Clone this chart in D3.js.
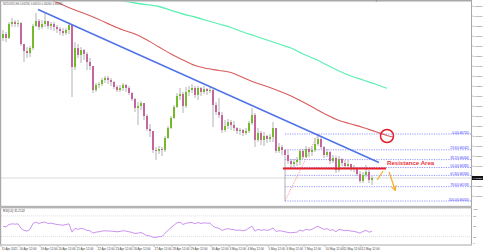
<!DOCTYPE html>
<html><head><meta charset="utf-8">
<script src="https://cdn.jsdelivr.net/npm/d3@7"></script>
<style>html,body{margin:0;padding:0;background:#fff;overflow:hidden}svg{display:block}</style>
</head><body><svg id="c" width="483" height="252"></svg>
<script>
// ---------- DATA ----------
const symbolTitle = "NZDUSD,H4  0.66290 0.66310 0.66260 0.66280";
const rsiTitle = "RSI(14) 35.2142";
const firstOpen = 0.6768;
const closes = [0.6772,0.6768,0.6782,0.6784,0.6782,0.6783,0.6762,0.6755,0.6753,0.6758,
0.6780,0.6785,0.6779,0.6782,0.6785,0.6780,0.6782,0.6779,0.6777,0.6775,
0.6773,0.6776,0.6781,0.6739,0.6758,0.6751,0.6756,0.6752,0.6744,0.6740,
0.6716,0.6721,0.6722,0.6726,0.6728,0.6726,0.6724,0.6719,0.6716,0.6718,
0.6721,0.6718,0.6713,0.6707,0.6698,0.6700,0.6703,0.6690,0.6677,0.6675,
0.6656,0.6655,0.6657,0.6656,0.6668,0.6678,0.6688,0.6699,0.6710,0.6712,
0.6700,0.6714,0.6716,0.6718,0.6711,0.6718,0.6714,0.6717,0.6715,0.6716,
0.6701,0.6694,0.6691,0.6676,0.6680,0.6684,0.6681,0.6678,0.6675,0.6676,
0.6673,0.6675,0.6683,0.6691,0.6666,0.6673,0.6666,0.6670,0.6667,0.6669,
0.6678,0.6655,0.6659,0.6656,0.6651,0.6645,0.6642,0.6644,0.6646,0.6655,
0.6649,0.6657,0.6654,0.6656,0.6662,0.6667,0.6659,0.6651,0.6654,0.6645,
0.6648,0.6636,0.6647,0.6643,0.6640,0.6642,0.6638,0.6637,0.6632,0.6625,
0.6631,0.6634,0.6626,0.6628];
const highs = [0.6776,0.6774,0.6784,0.6788,0.6786,0.6786,0.6784,0.6762,0.6759,0.6760,
0.6782,0.6793,0.6787,0.6786,0.6793,0.6785,0.6784,0.6784,0.6781,0.6779,
0.6778,0.6778,0.6784,0.6781,0.6764,0.6762,0.6759,0.6757,0.6754,0.6748,
0.6740,0.6723,0.6724,0.6728,0.6730,0.6730,0.6728,0.6725,0.6721,0.6721,
0.6723,0.6722,0.6720,0.6714,0.6708,0.6704,0.6705,0.6703,0.6692,0.6682,
0.6675,0.6659,0.6660,0.6659,0.6670,0.6680,0.6690,0.6701,0.6713,0.6718,
0.6714,0.6719,0.6720,0.6722,0.6720,0.6720,0.6719,0.6720,0.6718,0.6719,
0.6717,0.6704,0.6708,0.6694,0.6686,0.6687,0.6686,0.6685,0.6679,0.6678,
0.6677,0.6678,0.6685,0.6698,0.6693,0.6678,0.6675,0.6674,0.6671,0.6672,
0.6684,0.6678,0.6663,0.6661,0.6657,0.6656,0.6647,0.6647,0.6649,0.6657,
0.6657,0.6660,0.6659,0.6660,0.6668,0.6672,0.6669,0.6660,0.6657,0.6655,
0.6651,0.6650,0.6650,0.6648,0.6646,0.6646,0.6642,0.6641,0.6639,0.6635,
0.6634,0.6641,0.6636,0.6630];
const lows = [0.6765,0.6764,0.6767,0.6779,0.6779,0.6779,0.6760,0.6744,0.6748,0.6749,
0.6756,0.6779,0.6776,0.6777,0.6779,0.6777,0.6776,0.6775,0.6773,0.6771,
0.6770,0.6771,0.6772,0.6709,0.6736,0.6748,0.6743,0.6746,0.6736,0.6736,
0.6713,0.6714,0.6718,0.6720,0.6723,0.6722,0.6720,0.6717,0.6714,0.6714,
0.6715,0.6714,0.6711,0.6705,0.6694,0.6681,0.6696,0.6686,0.6675,0.6669,
0.6653,0.6646,0.6652,0.6650,0.6654,0.6667,0.6677,0.6687,0.6698,0.6706,
0.6693,0.6698,0.6710,0.6713,0.6708,0.6706,0.6710,0.6712,0.6711,0.6713,
0.6679,0.6691,0.6688,0.6673,0.6674,0.6677,0.6676,0.6675,0.6672,0.6671,
0.6670,0.6671,0.6673,0.6681,0.6659,0.6664,0.6661,0.6660,0.6663,0.6664,
0.6664,0.6653,0.6653,0.6651,0.6605,0.6642,0.6638,0.6639,0.6640,0.6641,
0.6647,0.6648,0.6649,0.6650,0.6654,0.6660,0.6657,0.6648,0.6649,0.6642,
0.6643,0.6633,0.6634,0.6640,0.6638,0.6638,0.6635,0.6634,0.6630,0.6623,
0.6623,0.6629,0.6623,0.6621];
const rsiValues = [50,48,55,57,56,57,44,38,36,41,58,62,58,61,62,58,59,57,55,54,
53,55,57,33,44,41,44,42,38,37,30,33,34,36,37,36,36,35,34,35,
37,36,34,32,29,30,32,27,23,22,18,18,20,20,30,38,46,53,60,62,
55,59,60,61,57,61,58,60,59,59,50,46,44,38,41,43,41,40,38,39,
37,39,45,50,36,41,38,40,38,40,45,35,37,36,34,32,31,32,33,39,
36,41,39,41,46,50,45,41,43,38,40,34,41,39,37,38,36,35,33,30,
35,38,33,35];
const redMaIdx = [12,16,20,24,28,32,36,40,44,48,52,56,60,64,68,72,76,80,84,88,92,96,100,104,108,112,116,120,124,128,130];
const redMa = [0.6811,0.6806,0.6801,0.6796,0.67915,0.67865,0.6781,0.6776,0.6772,0.6766,0.6759,0.6752,0.6746,0.67405,0.67375,0.67355,0.67335,0.67285,0.67235,0.67195,0.6715,0.6710,0.6704,0.66975,0.6691,0.66855,0.6682,0.66785,0.66745,0.66705,0.6669];
const greenMaIdx = [36,40,44,48,52,56,60,64,68,72,76,80,84,88,92,96,100,104,108,112,116,120,124,128];
const greenMa = [0.6807,0.6805,0.6803,0.68013,0.67995,0.67957,0.6792,0.6789,0.67855,0.6782,0.67785,0.6774,0.6770,0.6766,0.6762,0.6758,0.6752,0.6747,0.6741,0.6735,0.6730,0.6726,0.6722,0.67177];
const trendIdx = [11.7, 125.3];
const trendPrice = [0.67965, 0.66435];
const fibLevels = [0, 23.6, 38.2, 50, 61.8, 78.6, 100];
const fibLowIdx = 94, fibHighIdx = 105;
const resistancePrice = 0.66375;
const resistanceIdx = [93.3, 127.7];
const circleIdx = 128, circlePrice = 0.6670;
const arrowUp = [[124.7, 0.6626], [126.7, 0.6635]];
const arrowDown = [[128.7, 0.6634], [130.7, 0.6616]];
const annotationText = "Resistance Area";
const annotationAt = [128, 0.66415];
const priceTicks = [0.6800,0.6790,0.6780,0.6770,0.6760,0.6750,0.6740,0.6730,0.6720,0.6710,
0.6700,0.6690,0.6680,0.6670,0.6660,0.6650,0.6640,0.6630,0.6620,0.6610];
const rsiTicks = [100, 80, 50, 20, 0];
const rsiLevels = [80, 20];
const dateLabels = ["15 Apr 2021","16 Apr 12:00","19 Apr 12:00","20 Apr 12:00","21 Apr 12:00","22 Apr 12:00","23 Apr 12:00","26 Apr 12:00","27 Apr 12:00","28 Apr 12:00",
"29 Apr 12:00","30 Apr 12:00","3 May 12:00","4 May 12:00","5 May 12:00","6 May 12:00","7 May 12:00","10 May 12:00","11 May 12:00","12 May 12:00"];
const dateIdx = [0,6,13,19,25,32,38,44,51,57,63,70,76,82,89,95,101,108,114,120];

// ---------- LAYOUT ----------
const plotL = 1, plotR = 471, mainT = 1.5, mainB = 205.5, rsiT = 208.5, rsiB = 244.5;
const svg = d3.select('#c');
const x = d3.scaleLinear().domain([0, 123]).range([3, 372]);
const y = d3.scaleLinear().domain([0.6601, 0.6806]).range([205, 0]);
const yr = d3.scaleLinear().domain([0, 100]).range([243.5, 209]);
const font = "'Liberation Sans', Arial, sans-serif";

svg.append('rect').attr('width', 483).attr('height', 252).attr('fill', '#fff');
const defs = svg.append('defs');
defs.append('clipPath').attr('id', 'cm').append('rect')
  .attr('x', plotL).attr('y', mainT).attr('width', plotR - plotL).attr('height', mainB - mainT);
defs.append('clipPath').attr('id', 'cr').append('rect')
  .attr('x', plotL).attr('y', rsiT).attr('width', plotR - plotL).attr('height', rsiB - rsiT);
const mk = defs.append('marker').attr('id', 'ah').attr('viewBox', '0 0 10 10')
  .attr('refX', 8).attr('refY', 5).attr('markerWidth', 5).attr('markerHeight', 5)
  .attr('orient', 'auto-start-reverse');
mk.append('path').attr('d', 'M1,1 L9,5 L1,9').attr('fill', 'none').attr('stroke', '#f2b01e').attr('stroke-width', 1.8);

const main = svg.append('g').attr('clip-path', 'url(#cm)');

// current price line
const lastClose = closes[closes.length - 1];
main.append('line').attr('x1', plotL).attr('x2', plotR).attr('y1', y(lastClose)).attr('y2', y(lastClose))
  .attr('stroke', '#cfcfcf').attr('stroke-width', 0.8);

// fib
const fibLow = lows[fibLowIdx], fibHigh = highs[fibHighIdx];
fibLevels.forEach(lv => {
  const p = fibHigh - (fibHigh - fibLow) * lv / 100;
  main.append('line').attr('x1', x(fibLowIdx)).attr('x2', plotR).attr('y1', y(p)).attr('y2', y(p))
    .attr('stroke', '#6a6aff').attr('stroke-width', 0.7).attr('stroke-dasharray', '1.2,1.2');
  main.append('text').attr('x', plotR - 2).attr('y', y(p) - 0.4).attr('text-anchor', 'end')
    .attr('font-family', font).attr('font-size', 3).attr('fill', '#3a3aff')
    .text((lv === 0 ? '0.0' : lv === 100 ? '100.0' : lv.toFixed(1)) + '(' + p.toFixed(5) + ')');
});
main.append('line').attr('x1', x(fibLowIdx)).attr('y1', y(fibLow)).attr('x2', x(fibHighIdx)).attr('y2', y(fibHigh))
  .attr('stroke', '#ff6a6a').attr('stroke-width', 0.7).attr('stroke-dasharray', '1.2,1.2');

// moving averages
const ln = d3.line().x(d => x(d[0])).y(d => y(d[1])).curve(d3.curveMonotoneX);
main.append('path').attr('d', ln(greenMaIdx.map((v, k) => [v, greenMa[k]])))
  .attr('fill', 'none').attr('stroke', '#5ef0b2').attr('stroke-width', 1.3);
main.append('path').attr('d', ln(redMaIdx.map((v, k) => [v, redMa[k]])))
  .attr('fill', 'none').attr('stroke', '#d85c5c').attr('stroke-width', 1.1);

// candles
const candles = closes.map((c, i) => {
  const o = i ? closes[i - 1] : firstOpen;
  return { i, o, c, h: Math.max(highs[i], o, c), l: Math.min(lows[i], o, c) };
});
const cg = main.append('g');
cg.selectAll('line.w').data(candles).join('line')
  .attr('x1', d => x(d.i)).attr('x2', d => x(d.i)).attr('y1', d => y(d.h)).attr('y2', d => y(d.l))
  .attr('stroke', '#a0a0a0').attr('stroke-width', 0.8);
cg.selectAll('rect').data(candles).join('rect')
  .attr('x', d => x(d.i) - 1).attr('width', 2)
  .attr('y', d => y(Math.max(d.o, d.c)))
  .attr('height', d => Math.max(0.8, Math.abs(y(d.o) - y(d.c))))
  .attr('fill', d => d.c > d.o ? '#74bb2c' : d.c < d.o ? '#c6649e' : '#9a9a9a');

// trend line
main.append('line').attr('x1', x(trendIdx[0])).attr('y1', y(trendPrice[0]))
  .attr('x2', x(trendIdx[1])).attr('y2', y(trendPrice[1]))
  .attr('stroke', '#4f72e8').attr('stroke-width', 1.4);

// resistance
main.append('line').attr('x1', x(resistanceIdx[0])).attr('x2', x(resistanceIdx[1]))
  .attr('y1', y(resistancePrice)).attr('y2', y(resistancePrice))
  .attr('stroke', '#e8202a').attr('stroke-width', 2);
main.append('circle').attr('cx', x(circleIdx)).attr('cy', y(circlePrice)).attr('r', 6.5)
  .attr('fill', 'none').attr('stroke', '#e41e26').attr('stroke-width', 1.5);
main.append('text').attr('x', x(annotationAt[0])).attr('y', y(annotationAt[1]))
  .attr('font-family', font).attr('font-weight', 'bold').attr('font-size', 6.1)
  .attr('fill', '#e8343c').text(annotationText);
[arrowUp, arrowDown].forEach((a, k) => {
  const l = main.append('line').attr('x1', x(a[0][0])).attr('y1', y(a[0][1]))
    .attr('x2', x(a[1][0])).attr('y2', y(a[1][1]))
    .attr('stroke', '#f2b01e').attr('stroke-width', 1.2);
  if (k === 1) l.attr('marker-end', 'url(#ah)');
});

// ---------- RSI ----------
const rg = svg.append('g').attr('clip-path', 'url(#cr)');
rsiLevels.forEach(v => rg.append('line').attr('x1', plotL).attr('x2', plotR).attr('y1', yr(v)).attr('y2', yr(v))
  .attr('stroke', '#c8c8c8').attr('stroke-width', 0.6).attr('stroke-dasharray', '1,1'));
rg.append('path').attr('d', d3.line().x((d, i) => x(i)).y(d => yr(d))(rsiValues))
  .attr('fill', 'none').attr('stroke', '#cc94f0').attr('stroke-width', 1);
svg.append('text').attr('x', 3).attr('y', 212).attr('font-family', font).attr('font-size', 3)
  .attr('fill', '#444').text(rsiTitle);

// ---------- FRAME ----------
const fr = svg.append('g').attr('fill', 'none').attr('stroke', '#a8a8a8');
fr.append('line').attr('x1', 0).attr('x2', plotR).attr('y1', 0.7).attr('y2', 0.7).attr('stroke-width', 1.4);
fr.append('line').attr('x1', 0.6).attr('x2', 0.6).attr('y1', 0).attr('y2', rsiB).attr('stroke-width', 1.2);
fr.append('line').attr('x1', plotR + 0.5).attr('x2', plotR + 0.5).attr('y1', 0).attr('y2', rsiB).attr('stroke-width', 1);
fr.append('rect').attr('x', 0).attr('y', mainB + 0.3).attr('width', plotR + 1).attr('height', 2.6)
  .attr('fill', '#b4b4b4').attr('stroke', 'none');
fr.append('line').attr('x1', 0).attr('x2', plotR + 1).attr('y1', rsiB + 0.5).attr('y2', rsiB + 0.5).attr('stroke-width', 1);
// shift marker
svg.append('path').attr('d', `M${x(124.5) - 1.5},0 L${x(124.5) + 1.5},0 L${x(124.5)},2 Z`).attr('fill', '#999');

svg.append('text').attr('x', 3).attr('y', 4.6).attr('font-family', font).attr('font-size', 2.8)
  .attr('fill', '#555').text(symbolTitle);

// price axis
const pa = svg.append('g');
priceTicks.forEach(p => {
  pa.append('line').attr('x1', plotR + 1).attr('x2', plotR + 2).attr('y1', y(p)).attr('y2', y(p)).attr('stroke', '#888').attr('stroke-width', 0.5);
  if (Math.abs(y(p) - y(lastClose)) < 4) return;
  pa.append('text').attr('x', plotR + 2.3).attr('y', y(p) + 0.9).attr('font-family', font).attr('font-size', 2.5)
    .attr('fill', '#444').text(p.toFixed(5));
});
pa.append('rect').attr('x', plotR + 1).attr('y', y(lastClose) - 2).attr('width', 11.5).attr('height', 4).attr('fill', '#111');
pa.append('text').attr('x', plotR + 2.3).attr('y', y(lastClose) + 0.9).attr('font-family', font).attr('font-size', 2.5)
  .attr('fill', '#fff').text(lastClose.toFixed(5));
rsiTicks.forEach(v => {
  pa.append('text').attr('x', plotR + 2.3).attr('y', yr(v) + 0.9).attr('font-family', font).attr('font-size', 2.5)
    .attr('fill', '#444').text(v);
});

// date axis
dateLabels.forEach((s, k) => {
  const xx = x(dateIdx[k]) - 2;
  svg.append('line').attr('x1', xx).attr('x2', xx).attr('y1', rsiB + 1).attr('y2', rsiB + 2.5).attr('stroke', '#888').attr('stroke-width', 0.5);
  svg.append('text').attr('x', xx + 0.5).attr('y', 249.5).attr('font-family', font).attr('font-size', 3)
    .attr('fill', '#444').text(s);
});
</script></body></html>
